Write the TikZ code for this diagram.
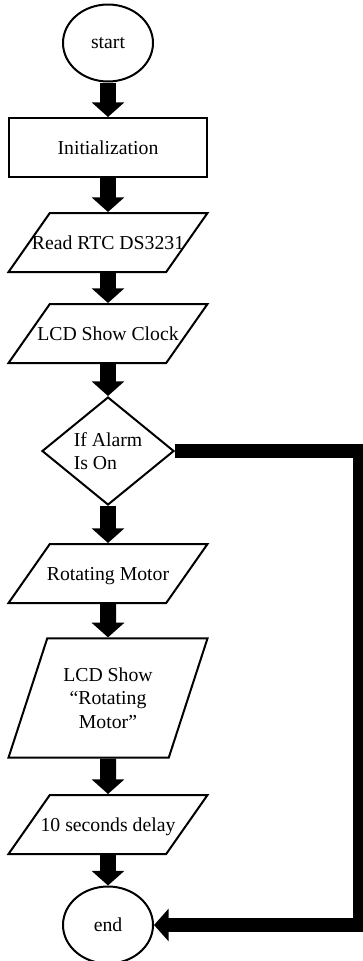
\documentclass[tikz,border=0pt]{standalone}
\usepackage{fontspec}
\setmainfont{Liberation Serif}
\usetikzlibrary{shapes.geometric,arrows.meta}
% text that may run over the slanted sides
\newcommand{\overrun}[1]{\makebox[0pt]{#1}}

\begin{document}
\begin{tikzpicture}[x=0.75pt,y=-0.75pt,
        every node/.style={font=\fontsize{14.8}{17.5}\selectfont, line width=1.5pt, inner sep=0pt},
        terminal/.style={draw, ellipse, minimum width=67.5pt, minimum height=57.75pt},
        process/.style={draw, rectangle, minimum width=148.5pt, minimum height=44.25pt},
        inout/.style={draw, trapezium, trapezium left angle=55, trapezium right angle=125,
            trapezium stretches body, minimum width=149.25pt, text height=27pt, text depth=17.25pt},
        decision/.style={draw, diamond, aspect=1.22, minimum width=99pt, minimum height=81pt, align=left},
        flow/.style={line width=12pt, -{Triangle[width=24pt,length=11pt]}},
        backline/.style={line width=11pt, miter limit=4, -{Triangle[width=24pt,length=11pt]}}]
        \useasboundingbox (0,0) rectangle (362,961);
        % Below nodes are the flowchart steps.
            \node[terminal] (start) at (108,43) {start};
            \node[process] (init) at (108,147.5) {Initialization};
            \node[inout] (rtc) at (108,242.5) {\overrun{Read RTC DS3231}};
            \node[inout] (clock) at (108,333.5) {\overrun{LCD Show Clock}};
            \node[decision] (alarm) at (108,451) {If Alarm\\Is On};
            \node[inout] (motor) at (108,573.5) {\overrun{Rotating Motor}};
            \node[inout, trapezium left angle=72, trapezium right angle=108, text height=, text depth=,
                inner ysep=22pt, align=center] (show) at (108,698) {LCD Show\\“Rotating\\Motor”};
            \node[inout] (delay) at (108,824.5) {\overrun{10 seconds delay}};
            \node[terminal] (end) at (108,925) {end};
        % This draws the arrows down the chart.
            \draw[flow] (start) -- (init);
            \draw[flow] (init) -- (rtc);
            \draw[flow] (rtc) -- (clock);
            \draw[flow] (clock) -- (alarm);
            \draw[flow] (alarm) -- (motor);
            \draw[flow] (motor) -- (show);
            \draw[flow] (show) -- (delay);
            \draw[flow] (delay) -- (end);
        % Alarm off goes straight to the end.
            \coordinate (edge) at (360,451);
            \draw[backline] (alarm.east) -- (edge) |- (end.east);
    \end{tikzpicture}
\end{document}
